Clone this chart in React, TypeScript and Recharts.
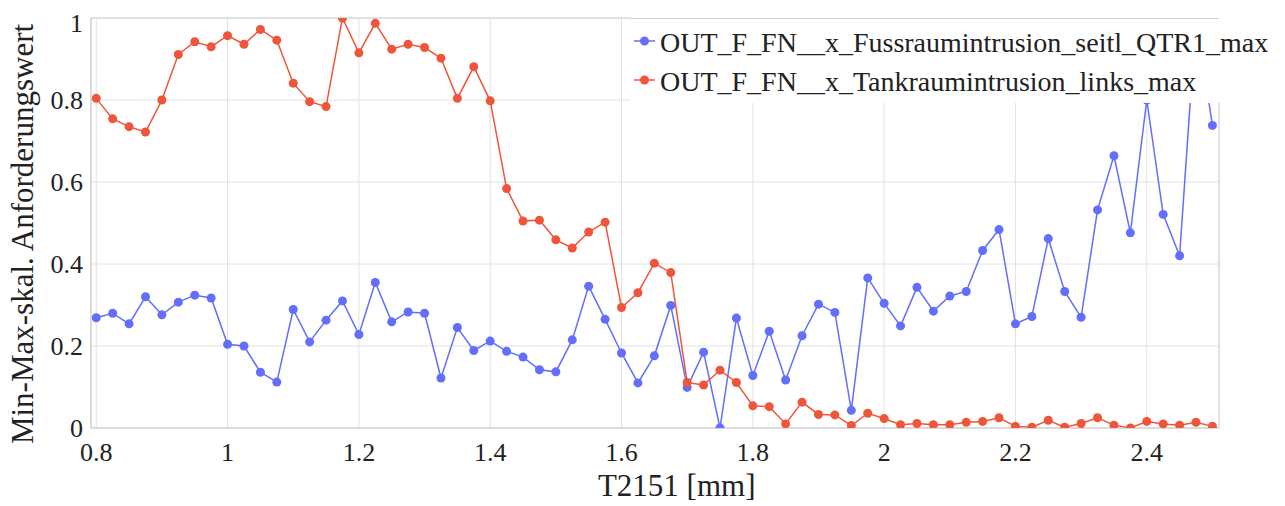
import React from 'react';
import {
  LineChart,
  Line,
  XAxis,
  YAxis,
  CartesianGrid,
  Legend,
  Label,
  ReferenceLine,
} from 'recharts';

const T2151 = [
  0.8, 0.825, 0.85, 0.875, 0.9, 0.925, 0.95, 0.975, 1, 1.025, 1.05, 1.075,
  1.1, 1.125, 1.15, 1.175, 1.2, 1.225, 1.25, 1.275, 1.3, 1.325, 1.35, 1.375,
  1.4, 1.425, 1.45, 1.475, 1.5, 1.525, 1.55, 1.575, 1.6, 1.625, 1.65, 1.675,
  1.7, 1.725, 1.75, 1.775, 1.8, 1.825, 1.85, 1.875, 1.9, 1.925, 1.95, 1.975,
  2, 2.025, 2.05, 2.075, 2.1, 2.125, 2.15, 2.175, 2.2, 2.225, 2.25, 2.275,
  2.3, 2.325, 2.35, 2.375, 2.4, 2.425, 2.45, 2.475, 2.5,
];

const fussraum = [
  0.269, 0.28, 0.254, 0.32, 0.276, 0.307, 0.324, 0.317, 0.204, 0.2, 0.136, 0.112,
  0.289, 0.21, 0.263, 0.31, 0.228, 0.355, 0.259, 0.283, 0.28, 0.122, 0.245, 0.189,
  0.212, 0.187, 0.173, 0.142, 0.137, 0.215, 0.346, 0.265, 0.183, 0.11, 0.176, 0.299,
  0.099, 0.185, 0.0, 0.268, 0.128, 0.236, 0.117, 0.225, 0.302, 0.282, 0.043, 0.366,
  0.304, 0.249, 0.343, 0.285, 0.322, 0.333, 0.433, 0.484, 0.254, 0.272, 0.462, 0.333,
  0.27, 0.532, 0.664, 0.476, 0.8, 0.521, 0.42, 1.0, 0.738,
];

const tankraum = [
  0.804, 0.754, 0.735, 0.722, 0.8, 0.911, 0.942, 0.93, 0.957, 0.936, 0.972, 0.946,
  0.841, 0.796, 0.784, 1.0, 0.915, 0.987, 0.924, 0.936, 0.928, 0.902, 0.804, 0.881,
  0.798, 0.584, 0.505, 0.507, 0.459, 0.439, 0.478, 0.502, 0.294, 0.33, 0.402, 0.379,
  0.111, 0.105, 0.141, 0.111, 0.054, 0.052, 0.01, 0.063, 0.033, 0.032, 0.006, 0.036,
  0.023, 0.008, 0.011, 0.008, 0.008, 0.014, 0.016, 0.025, 0.004, 0.002, 0.019, 0.002,
  0.011, 0.025, 0.007, 0.0, 0.016, 0.01, 0.007, 0.014, 0.004,
];

const xTicks = [0.8, 1, 1.2, 1.4, 1.6, 1.8, 2, 2.2, 2.4];
const yTicks = [0, 0.2, 0.4, 0.6, 0.8, 1];

const SERIES = [
  { key: 'fuss', name: 'OUT_F_FN__x_Fussraumintrusion_seitl_QTR1_max', color: '#636efa' },
  { key: 'tank', name: 'OUT_F_FN__x_Tankraumintrusion_links_max', color: '#ef553b' },
];

const FONT = '"Liberation Serif", "Times New Roman", serif';
const TEXT = '#222';
const FRAME = '#d0d0d0';

const data = T2151.map((x, i) => ({ x, fuss: fussraum[i], tank: tankraum[i] }));

// legend box sits on top of the plot with a white background; it redraws
// the piece of top frame it covers
const renderLegend = () => (
  <svg width={655} height={90} style={{ display: 'block', background: '#fff' }}>
    <line x1={0} x2={589} y1={5.5} y2={5.5} stroke={FRAME} />
    {SERIES.map((s, i) => (
      <g key={s.key}>
        <line x1={4} x2={25} y1={28 + i * 39} y2={28 + i * 39} stroke={s.color} strokeWidth={1.5} />
        <circle cx={14.5} cy={28 + i * 39} r={4.5} fill={s.color} />
        <text x={30} y={38.7 + i * 39.3} fontSize={28} fill={TEXT} fontFamily={FONT}>
          {s.name}
        </text>
      </g>
    ))}
  </svg>
);

const renderYLabel = () => (
  <text
    transform="translate(25, 226) rotate(-90)"
    textAnchor="middle"
    fontSize={31}
    fill={TEXT}
    fontFamily={FONT}
  >
    Min-Max-skal. Anforderungswert
  </text>
);

const renderXLabel = () => (
  <text x={668.7} y={487.7} textAnchor="middle" fontSize={31} fill={TEXT} fontFamily={FONT}>
    T2151 [mm]
  </text>
);

export default function App() {
  const tick = { fontSize: 26, fill: TEXT, fontFamily: FONT };
  return (
    <div style={{ fontFamily: FONT }}>
      <LineChart
        width={1277}
        height={498}
        data={data}
        margin={{ top: 10, right: 66, left: 0, bottom: 0 }}
      >
        <CartesianGrid stroke="#e2e2e2" strokeWidth={1} />
        <XAxis
          dataKey="x"
          type="number"
          domain={[0.792, 2.51]}
          ticks={xTicks}
          allowDataOverflow
          tick={tick}
          tickLine={false}
          tickMargin={9}
          axisLine={{ stroke: '#c4c4c4' }}
          height={78}
        >
          <Label content={renderXLabel} />
        </XAxis>
        <YAxis
          type="number"
          domain={[0, 1]}
          ticks={yTicks}
          allowDataOverflow
          tick={tick}
          tickLine={false}
          axisLine={{ stroke: '#c4c4c4' }}
          width={83}
        >
          <Label content={renderYLabel} />
        </YAxis>
        <ReferenceLine y={1} stroke={FRAME} />
        <ReferenceLine x={2.51} stroke={FRAME} />
        {SERIES.map(s => (
          <Line
            key={s.key}
            dataKey={s.key}
            name={s.name}
            stroke={s.color}
            strokeWidth={1.5}
            dot={{ r: 4.5, fill: s.color, stroke: 'none' }}
            activeDot={false}
            isAnimationActive={false}
          />
        ))}
        <Legend
          layout="vertical"
          align="center"
          verticalAlign="middle"
          content={renderLegend}
          wrapperStyle={{ left: 622, top: 5, width: 655, height: 90 }}
        />
      </LineChart>
    </div>
  );
}
